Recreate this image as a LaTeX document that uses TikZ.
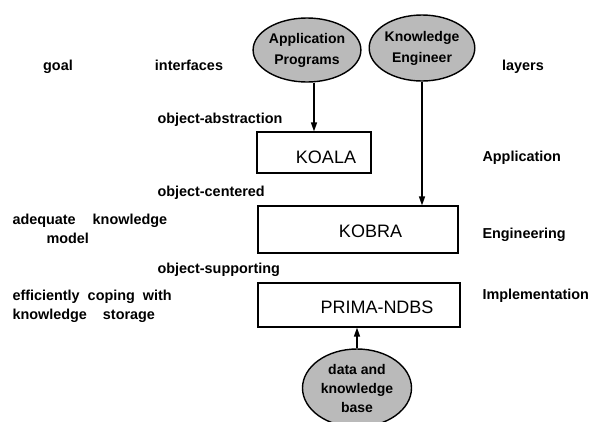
\documentclass[tikz,border=0pt]{standalone}
\usepackage{fontspec}
\setmainfont{Liberation Sans}
\usetikzlibrary{arrows.meta,shapes.geometric}

\tikzset{
  actor/.style = {ellipse, draw, line width=1.4pt, fill=black!27, inner sep=0pt, align=center, font=\bfseries\fontsize{14}{21}\selectfont},
  layerbox/.style = {rectangle, draw, line width=1.2pt, inner sep=0pt},
  boxtext/.style = {font=\mdseries\fontsize{18}{20}\selectfont},
  usearrow/.style = {line width=1.4pt, -{Triangle[length=9pt,width=6pt]}},
  caption/.style = {text height=10.5pt, text depth=3pt},
}

\begin{document}
\begin{tikzpicture}[x=1pt, y=-1pt, font=\bfseries\fontsize{14.4}{19}\selectfont]
\useasboundingbox (0,0) rectangle (591,421);
\clip (0,0) rectangle (591,421);
% column heads
\node [caption] (goal) at (58,67) {goal};
\node [caption] (interf) at (189,67) {interfaces};
\node [caption] (layers) at (523,67) {layers};
% who uses what
\node [actor, minimum width=97pt, minimum height=64pt] (app) at (307,50) {Application\\Programs};
\node [actor, minimum width=90pt, minimum height=66pt] (keng) at (422,48) {Knowledge\\Engineer};
\node [actor, minimum width=109pt, minimum height=78pt, font=\bfseries\fontsize{14}{19}\selectfont] (base) at (357,388) {data and\\knowledge\\base};
% the three systems
\node [layerbox, minimum width=114pt, minimum height=41pt, label={[boxtext,xshift=12pt,yshift=-4.5pt]center:KOALA}] (koala) at (314,152.5) {};
\node [layerbox, minimum width=200pt, minimum height=47pt, label={[boxtext,xshift=12.5pt,yshift=-1.5pt]center:KOBRA}] (kobra) at (358,229.5) {};
\node [layerbox, minimum width=202pt, minimum height=44pt, label={[boxtext,xshift=18pt,yshift=-2pt]center:PRIMA-NDBS}] (prima) at (359,305) {};
% interfaces
\node [caption, anchor=west] (abstr) at (154,120) {object-abstraction};
\node [caption, anchor=west] (centr) at (154,193) {object-centered};
\node [caption, anchor=west] (suppt) at (154,270) {object-supporting};
% layers
\node [caption, anchor=west] (lapp) at (479,158) {Application};
\node [caption, anchor=west] (leng) at (479,235) {Engineering};
\node [caption, anchor=west] (limp) at (479,296) {Implementation};
% goals
\node [anchor=west, align=left] (adeq) at (9,229) {adequate\hspace{17pt}knowledge\\\hspace*{34pt}model};
\node [anchor=west, align=left] (effic) at (9,306) {efficiently\hspace{8pt}coping\hspace{8pt}with\\knowledge\hspace{16pt}storage};
% arrows
\draw [usearrow] (koala.north |- app.south) -- (koala.north);
\draw [usearrow] (keng.south) -- (keng.south |- kobra.north);
\draw [usearrow] (base.north) -- (base.north |- prima.south);
\end{tikzpicture}
\end{document}
